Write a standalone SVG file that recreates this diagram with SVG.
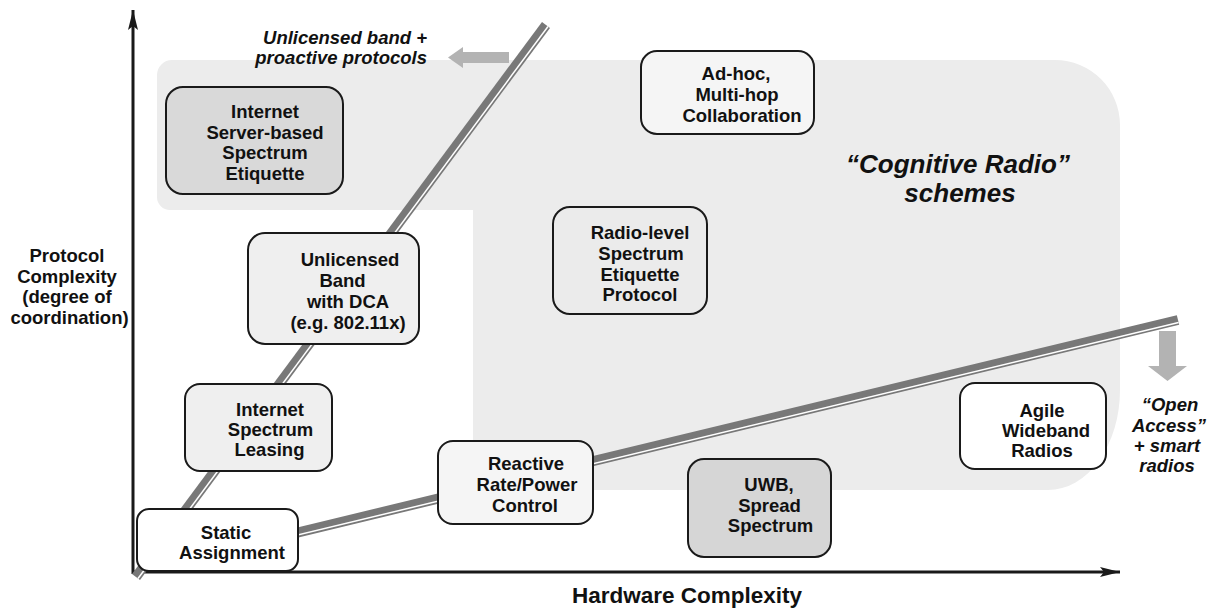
<svg xmlns="http://www.w3.org/2000/svg" width="1213" height="610" viewBox="0 0 1213 610">
  <style>
    .node rect { stroke: #1a1a1a; stroke-width: 2; }
    .lbl { font-family: "Liberation Sans", Arial, sans-serif; font-weight: bold; font-size: 18.5px; fill: #111; text-anchor: middle; }
    .it { font-style: italic; }
    .band { stroke: #787878; stroke-width: 10; fill: none; stroke-linecap: butt; }
    .gap { stroke: #ffffff; stroke-width: 1.5; fill: none; }
    .axis { stroke: #1a1a1a; stroke-width: 3; fill: none; }
    .garrow { fill: #b3b3b3; }
  </style>
  <defs>
    <marker id="ah" markerUnits="userSpaceOnUse" markerWidth="24" markerHeight="12" refX="20" refY="6" orient="auto">
      <path d="M0,1 L20,6 L0,11 L4,6 Z" fill="#1a1a1a"/>
    </marker>
  </defs>
  <rect width="1213" height="610" fill="#ffffff"/>

  <!-- Cognitive radio region -->
  <path id="region" d="M172,60 L1055,60 A65,65 0 0 1 1120,125 L1120,390 A72,100 0 0 1 1048,490 L495,490 A22,22 0 0 1 473,468 L473,210 L170,210 A13,13 0 0 1 157,197 L157,75 A15,15 0 0 1 172,60 Z" fill="#ececec"/>

  <!-- axes -->
  <g id="axes">
    <line class="axis" x1="133" y1="574" x2="133" y2="10" marker-end="url(#ah)"/>
    <line class="axis" x1="132" y1="572" x2="1120" y2="572" marker-end="url(#ah)"/>
  </g>

  <!-- connectors (boundary bands) -->
  <g id="connectors">
    <line class="band" x1="136" y1="577" x2="546" y2="25"/>
    <line class="gap" x1="138" y1="578.5" x2="548" y2="26.5"/>
    <line class="band" x1="250" y1="544" x2="1178" y2="320"/>
    <line class="gap" x1="250.6" y1="546.4" x2="1178.6" y2="322.4"/>
    <path class="garrow" d="M509,52 L463,52 L463,47 L448,57.5 L463,68 L463,63 L509,63 Z"/>
    <path class="garrow" d="M1159,331 L1176,331 L1176,366 L1187,366 L1167.5,381 L1148,366 L1159,366 Z"/>
  </g>

  <g id="n-server">
    <g class="node"><rect x="166" y="87" width="177" height="107" rx="17" fill="#d9d9d9"/></g>
    <text class="lbl" x="265" y="118">Internet</text>
    <text class="lbl" x="265" y="139">Server-based</text>
    <text class="lbl" x="265" y="159">Spectrum</text>
    <text class="lbl" x="265" y="180">Etiquette</text>
  </g>

  <g id="n-adhoc">
    <g class="node"><rect x="641" y="51" width="173" height="83" rx="16" fill="#f5f5f5"/></g>
    <text class="lbl" x="736" y="80">Ad-hoc,</text>
    <text class="lbl" x="737" y="101">Multi-hop</text>
    <text class="lbl" x="742" y="122">Collaboration</text>
  </g>

  <g id="n-radio">
    <g class="node"><rect x="553" y="207" width="154" height="107" rx="17" fill="#ebebeb"/></g>
    <text class="lbl" x="640" y="239">Radio-level</text>
    <text class="lbl" x="641" y="260">Spectrum</text>
    <text class="lbl" x="640" y="281">Etiquette</text>
    <text class="lbl" x="640" y="301">Protocol</text>
  </g>

  <g id="n-unlicensed">
    <g class="node"><rect x="248" y="233" width="171" height="111" rx="17" fill="#efefef"/></g>
    <text class="lbl" x="350" y="266">Unlicensed</text>
    <text class="lbl" x="342.5" y="287">Band</text>
    <text class="lbl" x="348" y="308">with DCA</text>
    <text class="lbl" x="348" y="329">(e.g. 802.11x)</text>
  </g>

  <g id="n-leasing">
    <g class="node"><rect x="185" y="384" width="147" height="87" rx="15" fill="#efefef"/></g>
    <text class="lbl" x="270" y="416">Internet</text>
    <text class="lbl" x="270.5" y="436">Spectrum</text>
    <text class="lbl" x="269.5" y="456">Leasing</text>
  </g>

  <g id="n-static">
    <g class="node"><rect x="137" y="509" width="161" height="62" rx="12" fill="#ffffff"/></g>
    <text class="lbl" x="226" y="539">Static</text>
    <text class="lbl" x="232" y="559">Assignment</text>
  </g>

  <g id="n-reactive">
    <g class="node"><rect x="438" y="441" width="155" height="83" rx="15" fill="#f5f5f5"/></g>
    <text class="lbl" x="526" y="470">Reactive</text>
    <text class="lbl" x="527" y="491">Rate/Power</text>
    <text class="lbl" x="525" y="512">Control</text>
  </g>

  <g id="n-uwb">
    <g class="node"><rect x="688" y="459" width="143" height="98" rx="16" fill="#d6d6d6"/></g>
    <text class="lbl" x="769" y="491">UWB,</text>
    <text class="lbl" x="769.5" y="512">Spread</text>
    <text class="lbl" x="770.5" y="532">Spectrum</text>
  </g>

  <g id="n-agile">
    <g class="node"><rect x="960" y="383" width="146" height="86" rx="15" fill="#ffffff"/></g>
    <text class="lbl" x="1042" y="417">Agile</text>
    <text class="lbl" x="1046" y="437">Wideband</text>
    <text class="lbl" x="1042" y="457">Radios</text>
  </g>

  <g id="labels">
    <text class="lbl it" x="427" y="44" style="text-anchor:end">Unlicensed band +</text>
    <text class="lbl it" x="427" y="64" style="text-anchor:end">proactive protocols</text>
    <text class="lbl it" x="958" y="173" style="font-size:26px">“Cognitive Radio”</text>
    <text class="lbl it" x="960" y="202" style="font-size:26px">schemes</text>
    <text class="lbl it" x="1170" y="411">“Open</text>
    <text class="lbl it" x="1169" y="432">Access”</text>
    <text class="lbl it" x="1167" y="452">+ smart</text>
    <text class="lbl it" x="1167" y="472">radios</text>
    <text class="lbl" x="67" y="262">Protocol</text>
    <text class="lbl" x="67" y="283">Complexity</text>
    <text class="lbl" x="67" y="303">(degree of</text>
    <text class="lbl" x="69.5" y="324">coordination)</text>
    <text class="lbl" x="687" y="603" style="font-size:22.5px">Hardware Complexity</text>
  </g>
</svg>
